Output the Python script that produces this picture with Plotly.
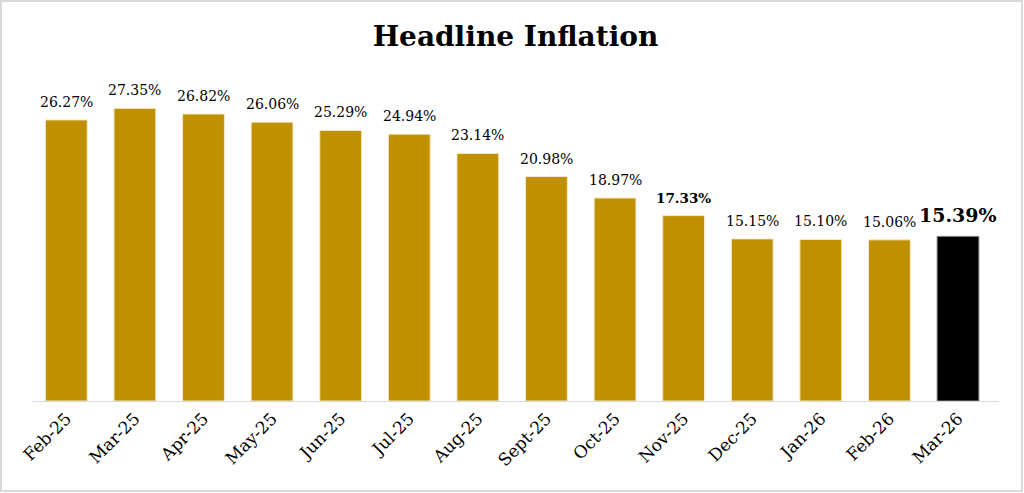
import plotly.graph_objects as go

months = ["Feb-25", "Mar-25", "Apr-25", "May-25", "Jun-25", "Jul-25", "Aug-25",
          "Sept-25", "Oct-25", "Nov-25", "Dec-25", "Jan-26", "Feb-26", "Mar-26"]
inflation = [26.27, 27.35, 26.82, 26.06, 25.29, 24.94, 23.14,
             20.98, 18.97, 17.33, 15.15, 15.10, 15.06, 15.39]
bold_labels = ["Nov-25", "Mar-26"]
highlight = "Mar-26"

GOLD = "#BF9000"
FONT = "DejaVu Serif"

W, H = 1024, 493
ML, MR, MT, MB = 32, 25, 80, 92

colors = ["#000000" if m == highlight else GOLD for m in months]
outlines = ["#8c8c8c" if m == highlight else "#f3e9cc" for m in months]

fig = go.Figure(go.Bar(
    x=months, y=inflation,
    marker=dict(color=colors, line=dict(color=outlines, width=1)),
    hoverinfo="skip",
))

for m, v in zip(months, inflation):
    s = f"{v:.2f}%"
    size = 14
    if m in bold_labels:
        s = f"<b>{s}</b>"
        size = 13.5
    if m == highlight:
        size = 19
    fig.add_annotation(x=m, y=v, text=s, showarrow=False, xanchor="center",
                       yanchor="bottom", yshift=8,
                       font=dict(family=FONT, size=size, color="#000000"))

pw = W - ML - MR
ph = H - MT - MB
fig.add_shape(type="rect", xref="paper", yref="paper",
              x0=(1 - ML) / pw, x1=(W - 2 - ML) / pw,
              y0=-(H - 2 - (H - MB)) / ph, y1=(H - MB - 1) / ph,
              line=dict(color="#d9d9d9", width=2), fillcolor="rgba(0,0,0,0)", layer="below")

fig.update_layout(
    width=W, height=H,
    margin=dict(l=ML, r=MR, t=MT, b=MB, autoexpand=False),
    paper_bgcolor="white", plot_bgcolor="white",
    bargap=0.39,
    showlegend=False,
    title=dict(text="<b>Headline Inflation</b>", x=0.5, xref="paper", xanchor="center",
               y=1 - 36 / H, yanchor="middle",
               font=dict(family=FONT, size=28, color="#000000")),
    xaxis=dict(showline=True, linecolor="#d9d9d9", linewidth=1, ticks="",
               tickangle=-45, tickfont=dict(family=FONT, size=17, color="#000000"),
               showgrid=False, automargin=False),
    yaxis=dict(range=[0, 30], visible=False, showgrid=False, automargin=False),
)

fig.write_html("out.html", config={"displayModeBar": False},
               post_script="document.body.style.margin='0';")
